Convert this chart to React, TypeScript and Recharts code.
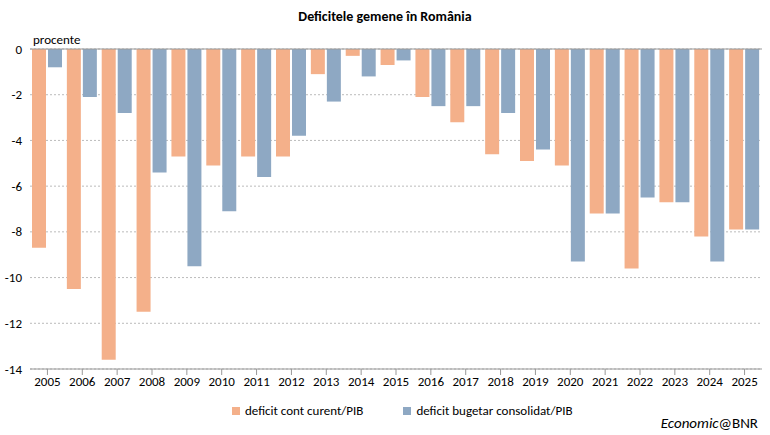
import React from 'react';
import { BarChart, Bar, XAxis, YAxis, CartesianGrid, ReferenceLine } from 'recharts';

const years = ['2005','2006','2007','2008','2009','2010','2011','2012','2013','2014','2015','2016','2017','2018','2019','2020','2021','2022','2023','2024','2025'];
const contCurent = [-8.7,-10.5,-13.6,-11.5,-4.7,-5.1,-4.7,-4.7,-1.1,-0.3,-0.7,-2.1,-3.2,-4.6,-4.9,-5.1,-7.2,-9.6,-6.7,-8.2,-7.9];
const bugetar = [-0.8,-2.1,-2.8,-5.4,-9.5,-7.1,-5.6,-3.8,-2.3,-1.2,-0.5,-2.5,-2.5,-2.8,-4.4,-9.3,-7.2,-6.5,-6.7,-9.3,-7.9];
const yTicks = [0,-2,-4,-6,-8,-10,-12,-14];

const data = years.map((y, i) => ({ year: y, cc: contCurent[i], bg: bugetar[i] }));

const ORANGE = '#F4B08A';
const BLUE = '#8EA8C3';
const FONT = 'Calibri, Carlito, "Liberation Sans", Arial, sans-serif';

export default function App() {
  return (
    <div style={{ position: 'absolute', left: 0, top: 0, width: 770, height: 435, background: '#fff', fontFamily: FONT }}>
      <div style={{ position: 'absolute', top: 8, width: 770, textAlign: 'center', fontWeight: 'bold', fontSize: 14 }}>
        Deficitele gemene în România
      </div>
      <div style={{ position: 'absolute', top: 32, left: 33, fontSize: 13 }}>procente</div>
      <BarChart width={770} height={435} data={data} margin={{ top: 49, right: 8, left: 0, bottom: 46 }} barGap={2} barSize={14}>
        <CartesianGrid vertical={false} stroke="#bbb" strokeDasharray="2 2" />
        <XAxis dataKey="year" tick={{ fill: '#000', fontSize: 13 }} axisLine={{ stroke: '#999' }} tickLine={{ stroke: '#999' }} interval={0} height={20} />
        <YAxis domain={[-14, 0]} ticks={yTicks} width={30} tick={{ fill: '#000', fontSize: 13 }} axisLine={false} tickLine={false} />
        <ReferenceLine y={0} stroke="#999" />
        <Bar dataKey="cc" fill={ORANGE} isAnimationActive={false} />
        <Bar dataKey="bg" fill={BLUE} isAnimationActive={false} />
      </BarChart>
      <div style={{ position: 'absolute', top: 403, left: 232, fontSize: 13, display: 'flex', alignItems: 'center', gap: 40 }}>
        <span style={{ display: 'flex', alignItems: 'center', gap: 5 }}>
          <span style={{ width: 8, height: 8, background: ORANGE, display: 'inline-block' }} />deficit cont curent/PIB
        </span>
        <span style={{ display: 'flex', alignItems: 'center', gap: 5 }}>
          <span style={{ width: 8, height: 8, background: BLUE, display: 'inline-block' }} />deficit bugetar consolidat/PIB
        </span>
      </div>
      <div style={{ position: 'absolute', top: 414, right: 12, fontSize: 15 }}>
        <i>Economic</i>@BNR
      </div>
    </div>
  );
}
